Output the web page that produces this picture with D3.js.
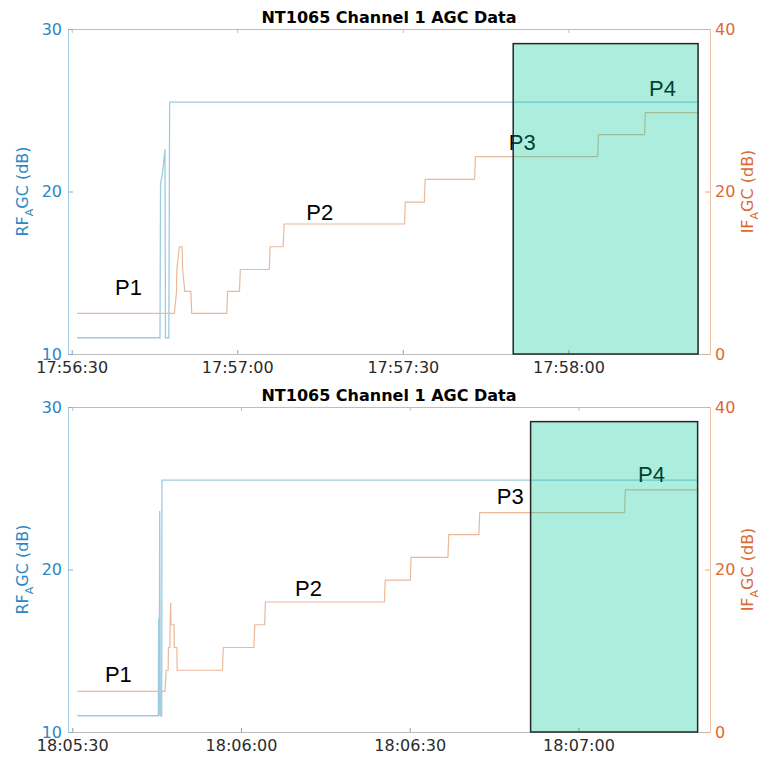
<!DOCTYPE html>
<html>
<head>
<meta charset="utf-8">
<script src="https://cdn.jsdelivr.net/npm/d3@7"></script>
<style>
  body { margin: 0; background: #fff; }
  svg { font-family: "DejaVu Sans", sans-serif; }
  .title { font-family: "DejaVu Sans", sans-serif; font-weight: bold; font-size: 16px; fill: #000; }
  .plabel { font-family: "Liberation Sans", Arial, sans-serif; font-size: 22px; fill: #000; }
  .tick text { font-family: "DejaVu Sans", sans-serif; font-size: 16px; }
</style>
</head>
<body>
<script>
// ---- data (seconds after the start time of each panel) ----
var titleText = "NT1065 Channel 1 AGC Data";
var rfTicks = [10, 20, 30];
var ifTicks = [0, 20, 40];

// top panel
var topStart = "17:56:30";
var topXLim = [-0.67, 115.66];
var topRfT = [0.96, 16.0, 16.1, 16.4, 16.6, 16.9, 17.0, 17.6, 17.75, 113.6];
var topRfV = [11, 11, 20.5, 21, 21.6, 22.6, 11, 11, 25.5, 25.5];
var topIfT = [0.96, 18.6, 19.0, 19.05, 19.5, 20.0, 20.1, 20.5, 21.6, 21.75,
              28.1, 28.25, 30.4, 30.55, 35.8, 35.95, 38.3, 38.5, 60.3, 60.45,
              63.9, 64.05, 73.0, 73.15, 95.3, 95.45, 103.8, 103.95, 113.6];
var topIfV = [5, 5, 7.7, 10.4, 13.2, 13.2, 10.4, 7.7, 7.7, 5,
              5, 7.7, 7.7, 10.4, 10.4, 13.2, 13.2, 16, 16, 18.7,
              18.7, 21.5, 21.5, 24.3, 24.3, 27, 27, 29.7, 29.7];
var topBox = [80.0, 113.5, 29.1];            // t0, t1, top (RF dB)
var topLabels = ["P1", "P2", "P3", "P4"];
var topLabelT = [7.85, 42.5, 79.2, 104.6];
var topLabelV = [13.63, 18.25, 22.55, 25.9];

// bottom panel
var botStart = "18:05:30";
var botXLim = [-0.76, 113.4];
var botRfT = [0.9, 15.3, 15.35, 15.4, 15.5, 15.55, 15.65, 15.9, 15.95, 111.2];
var botRfV = [11, 11, 17, 11, 17, 23.6, 11, 11, 25.5, 25.5];
var botIfT = [0.9, 16.5, 16.7, 17.05, 17.1, 17.35, 17.4, 17.5, 17.55, 18.1, 18.15, 18.6, 18.65,
              26.7, 26.85, 32.3, 32.45, 34.2, 34.35, 55.5, 55.65, 60.1, 60.25,
              66.8, 66.95, 72.3, 72.45, 98.2, 98.35, 111.2];
var botIfV = [5, 5, 7.6, 7.6, 10.4, 10.4, 13.2, 15.9, 13.2, 13.2, 10.4, 10.4, 7.6,
              7.6, 10.4, 10.4, 13.2, 13.2, 16, 16, 18.7, 18.7, 21.5,
              21.5, 24.3, 24.3, 27, 27, 29.8, 29.8];
var botBox = [81.5, 111.2, 29.1];
var botLabels = ["P1", "P2", "P3", "P4"];
var botLabelT = [5.8, 39.6, 75.5, 100.6];
var botLabelV = [13.07, 18.37, 24.04, 25.39];

// ---- layout ----
var W = 761, H = 759;
var left = 68, right = 710;
var blue = "#2a87c6", orange = "#dc6a33";

var svg = d3.select("body").append("svg")
            .attr("width", W)
            .attr("height", H);

var parseT = d3.timeParse("%H:%M:%S");

function drawPanel(p) {
  var t0 = parseT(p.start);
  var toDate = function(s) { return new Date(t0.getTime() + s * 1000); };

  var x = d3.scaleTime().domain(p.xlim.map(toDate)).range([left, right]);
  var yL = d3.scaleLinear().domain([10, 30]).range([p.bottom, p.top]);
  var yR = d3.scaleLinear().domain([0, 40]).range([p.bottom, p.top]);

  var g = svg.append("g");

  // top box line with inward ticks
  g.append("g")
   .attr("transform", "translate(0," + p.top + ")")
   .call(d3.axisTop(x).ticks(d3.timeSecond.every(30)).tickFormat("")
           .tickSizeInner(-4).tickSizeOuter(0))
   .call(function(a) {
     a.select(".domain").attr("stroke", "#bdbdbd");
     a.selectAll(".tick line").attr("stroke", "#bdbdbd");
   });

  // bottom time axis
  g.append("g")
   .attr("transform", "translate(0," + p.bottom + ")")
   .call(d3.axisBottom(x).ticks(d3.timeSecond.every(30))
           .tickFormat(d3.timeFormat("%H:%M:%S"))
           .tickSizeInner(-4).tickSizeOuter(0).tickPadding(8))
   .call(function(a) {
     a.select(".domain").attr("stroke", "#bdbdbd");
     a.selectAll(".tick line").attr("stroke", "#9a9a9a");
     a.selectAll(".tick text").attr("fill", "#2b2b2b");
   });

  // left RF axis
  g.append("g")
   .attr("transform", "translate(" + left + ",0)")
   .call(d3.axisLeft(yL).tickValues(rfTicks).tickSizeInner(-5).tickSizeOuter(0).tickPadding(6))
   .call(function(a) {
     a.select(".domain").attr("stroke", "#a9cfe2");
     a.selectAll(".tick line").attr("stroke", "#7fb6d6");
     a.selectAll(".tick text").attr("fill", blue);
   });

  // right IF axis
  g.append("g")
   .attr("transform", "translate(" + right + ",0)")
   .call(d3.axisRight(yR).tickValues(ifTicks).tickSizeInner(-5).tickSizeOuter(0).tickPadding(5))
   .call(function(a) {
     a.select(".domain").attr("stroke", "#efc3a5");
     a.selectAll(".tick line").attr("stroke", "#e9a682");
     a.selectAll(".tick text").attr("fill", orange);
   });

  // axis labels
  var lbl = g.append("text")
   .attr("transform", "translate(28," + (p.top + p.bottom) / 2 + ") rotate(-90)")
   .attr("text-anchor", "middle")
   .attr("font-size", "16px")
   .attr("fill", blue);
  lbl.append("tspan").text("RF");
  lbl.append("tspan").attr("font-size", "11px").attr("dy", 5).text("A");
  lbl.append("tspan").attr("dy", -5).text("GC (dB)");

  var rlbl = g.append("text")
   .attr("transform", "translate(753," + (p.top + p.bottom) / 2 + ") rotate(-90)")
   .attr("text-anchor", "middle")
   .attr("font-size", "16px")
   .attr("fill", orange);
  rlbl.append("tspan").text("IF");
  rlbl.append("tspan").attr("font-size", "11px").attr("dy", 5).text("A");
  rlbl.append("tspan").attr("dy", -5).text("GC (dB)");

  // title
  g.append("text")
   .attr("class", "title")
   .attr("x", (left + right) / 2)
   .attr("y", p.top - 6)
   .attr("text-anchor", "middle")
   .text(titleText);

  // RF line
  var rfData = p.rfT.map(function(t, i) { return [t, p.rfV[i]]; });
  g.append("path")
   .datum(rfData)
   .attr("fill", "none")
   .attr("stroke", "#9dcbe0")
   .attr("stroke-width", 1.3)
   .attr("d", d3.line().x(function(d) { return x(toDate(d[0])); })
                       .y(function(d) { return yL(d[1]); }));

  // IF line
  var ifData = p.ifT.map(function(t, i) { return [t, p.ifV[i]]; });
  g.append("path")
   .datum(ifData)
   .attr("fill", "none")
   .attr("stroke", "#eab89b")
   .attr("stroke-width", 1.2)
   .attr("d", d3.line().x(function(d) { return x(toDate(d[0])); })
                       .y(function(d) { return yR(d[1]); }));

  // P labels
  g.selectAll(".plabel")
   .data(p.labels)
   .enter()
   .append("text")
   .attr("class", "plabel")
   .attr("x", function(d, i) { return x(toDate(p.labelT[i])); })
   .attr("y", function(d, i) { return yL(p.labelV[i]); })
   .text(function(d) { return d; });

  // highlighted region
  g.append("rect")
   .attr("x", x(toDate(p.box[0])))
   .attr("y", yL(p.box[2]))
   .attr("width", x(toDate(p.box[1])) - x(toDate(p.box[0])))
   .attr("height", yL(10) - yL(p.box[2]))
   .attr("fill", "rgb(0,200,150)")
   .attr("fill-opacity", 0.32)
   .attr("stroke", "#262626")
   .attr("stroke-width", 1.5);
}

drawPanel({ start: topStart, xlim: topXLim, top: 29, bottom: 354,
            rfT: topRfT, rfV: topRfV, ifT: topIfT, ifV: topIfV,
            box: topBox, labels: topLabels, labelT: topLabelT, labelV: topLabelV });

drawPanel({ start: botStart, xlim: botXLim, top: 407, bottom: 732,
            rfT: botRfT, rfV: botRfV, ifT: botIfT, ifV: botIfV,
            box: botBox, labels: botLabels, labelT: botLabelT, labelV: botLabelV });
</script>
</body>
</html>
